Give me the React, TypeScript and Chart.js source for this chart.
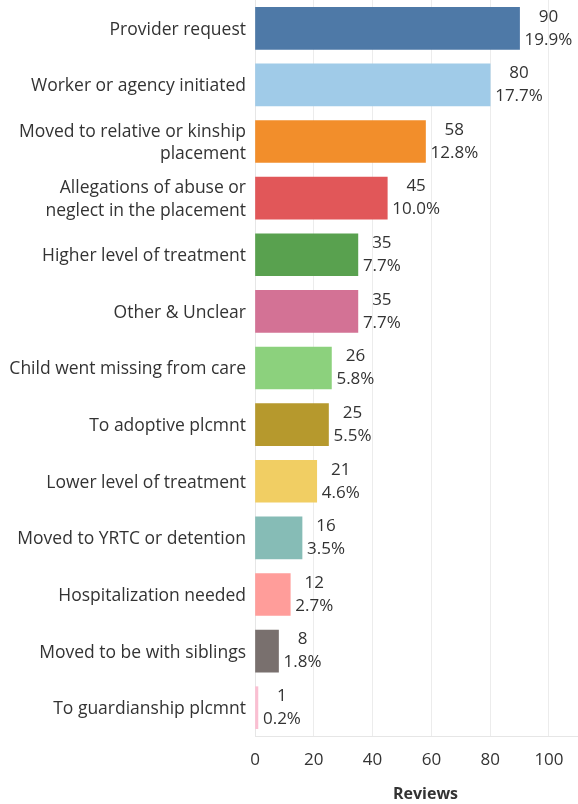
import React, { useEffect, useRef } from "react";
import { Chart, registerables } from "chart.js";

Chart.register(...registerables);

const categories: (string | string[])[] = [
  "Provider request",
  "Worker or agency initiated",
  ["Moved to relative or kinship", "placement"],
  ["Allegations of abuse or", "neglect in the placement"],
  "Higher level of treatment",
  "Other & Unclear",
  "Child went missing from care",
  "To adoptive plcmnt",
  "Lower level of treatment",
  "Moved to YRTC or detention",
  "Hospitalization needed",
  "Moved to be with siblings",
  "To guardianship plcmnt",
];

const reviews = [90, 80, 58, 45, 35, 35, 26, 25, 21, 16, 12, 8, 1];
const percents = ["19.9%", "17.7%", "12.8%", "10.0%", "7.7%", "7.7%", "5.8%", "5.5%", "4.6%", "3.5%", "2.7%", "1.8%", "0.2%"];

const colors = [
  "#4e79a7", "#a0cbe8", "#f28e2b", "#e15759", "#59a14f", "#d37295", "#8cd17d",
  "#b6992d", "#f1ce63", "#86bcb6", "#ff9d9a", "#79706e", "#fabfd2",
];

const xTicks = [0, 20, 40, 60, 80, 100];

const FONT = "'Open Sans', Lato, sans-serif";

const textLabels = {
  id: "textLabels",
  afterDatasetsDraw(chart: any) {
    const ctx = chart.ctx;
    const meta = chart.getDatasetMeta(0);
    const yScale = chart.scales.y;
    ctx.save();
    ctx.fillStyle = "#333333";
    ctx.textBaseline = "middle";
    // category labels
    ctx.font = `17.5px ${FONT}`;
    ctx.textAlign = "right";
    categories.forEach((c, i) => {
      const lines = Array.isArray(c) ? c : [c];
      const yc = yScale.getPixelForValue(i) + 1.5;
      const lh = 22.7;
      lines.forEach((ln, k) => {
        ctx.fillText(ln, yScale.right - 9, yc + (k - (lines.length - 1) / 2) * lh);
      });
    });
    // value labels
    ctx.font = `17px ${FONT}`;
    ctx.textAlign = "center";
    meta.data.forEach((bar: any, i: number) => {
      const l1 = String(reviews[i]);
      const l2 = percents[i];
      const w = Math.max(ctx.measureText(l1).width, ctx.measureText(l2).width);
      const cx = bar.x + 5 + w / 2;
      ctx.fillText(l1, cx, bar.y - 11.5);
      ctx.fillText(l2, cx, bar.y + 11.5);
    });
    ctx.restore();
  },
};

export default function App() {
  const ref = useRef<HTMLCanvasElement | null>(null);
  useEffect(() => {
    document.body.style.margin = "0";
    if (!ref.current) return;
    const chart = new Chart(ref.current, {
      type: "bar",
      data: {
        labels: categories,
        datasets: [
          {
            data: reviews,
            backgroundColor: colors,
            borderWidth: 0,
            barThickness: 42,
          },
        ],
      },
      options: {
        indexAxis: "y",
        animation: false,
        responsive: false,
        maintainAspectRatio: false,
        layout: { padding: 0 },
        plugins: { legend: { display: false }, tooltip: { enabled: false } },
        scales: {
          y: {
            grid: { display: false, drawTicks: false },
            border: { display: true, color: "#e6e6e6" },
            ticks: { display: false, autoSkip: false },
            afterFit(scale: any) {
              scale.width = 255;
              scale.paddingTop = 0;
              scale.paddingBottom = 0;
            },
          },
          x: {
            min: 0,
            max: 116,
            grid: { color: "#ececec", drawTicks: false },
            border: { display: true, color: "#e6e6e6" },
            ticks: {
              stepSize: 20,
              includeBounds: false,
              padding: 14,
              color: "#333333",
              font: { family: FONT, size: 17 },
              callback: (v: any) => (xTicks.includes(Number(v)) ? String(v) : ""),
            },
            title: {
              display: true,
              text: "Reviews",
              color: "#333333",
              font: { family: FONT, size: 16, weight: "bold" },
              padding: { top: 0, bottom: 0 },
            },
            afterFit(scale: any) {
              scale.height = 68;
            },
          },
        },
      },
      plugins: [textLabels],
    });
    return () => chart.destroy();
  }, []);
  return (
    <div style={{ width: 578, height: 804, overflow: "hidden", position: "relative", background: "#fff" }}>
      <canvas ref={ref} width={596} height={804} style={{ display: "block", width: 596, height: 804 }} />
    </div>
  );
}
